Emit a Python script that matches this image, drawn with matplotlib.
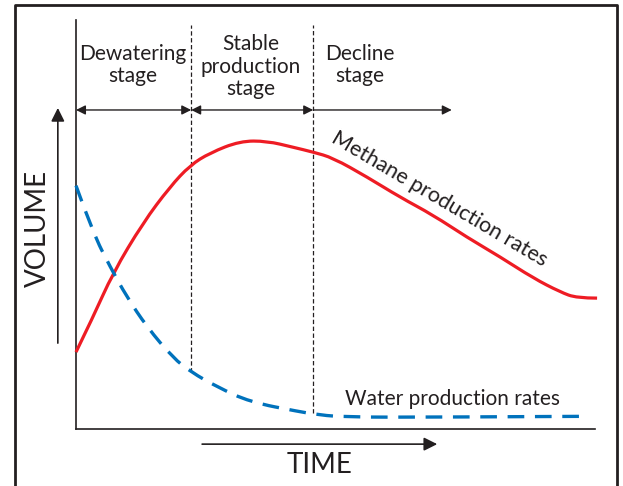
import matplotlib

matplotlib.use("Agg")

import matplotlib.pyplot as plt
import numpy as np
from matplotlib.lines import Line2D
from matplotlib.patches import PathPatch
from matplotlib.path import Path

plt.rcParams["font.family"] = ["Lato", "DejaVu Sans"]

INK = "#231f20"
RED = "#ee1c24"
BLUE = "#0072bc"

# methane production curve (time, volume)
methane_t = [0, 3.3, 7.1, 12.9, 18.1, 22.0, 25.8, 31.6, 36.8, 41.8, 45.7, 49.5,
             56.1, 62.4, 68.8, 75.3, 81.7, 88.1, 93.3, 96.5, 100.4]
methane_v = [18.8, 27.4, 38.1, 50.4, 59.2, 64.5, 67.5, 70.4, 70.4, 68.9, 67.7, 66.3,
             61.6, 56.7, 52.3, 46.9, 42.1, 36.9, 33.5, 32.0, 32.0]

# water production curve
water_t = [0, 3.3, 6.6, 9.8, 13.7, 18.7, 22.2, 27.2, 33.5, 43.2, 45.7, 50.9, 70.0, 98.7]
water_v = [59.5, 47.9, 39.6, 32.3, 24.9, 17.4, 13.9, 10.3, 6.6, 4.2, 3.7, 2.9, 2.9, 3.1]

# stage boundaries and labels
stage_edges = [0, 22.2, 45.7]
stage_end = 72.4
stage_names = ["Dewatering\nstage", "Stable\nproduction\nstage", "Decline\nstage"]
stage_label_x = [11.0, 33.7, 54.7]
divider_bottoms = [13.9, 3.9]


def smooth_path(xs, ys):
    # quadratic bezier through midpoints, so the read points act as control points
    pts = np.column_stack([xs, ys])
    verts = [pts[0]]
    codes = [Path.MOVETO]
    for i in range(1, len(pts) - 1):
        end = pts[i + 1] if i == len(pts) - 2 else (pts[i] + pts[i + 1]) / 2
        verts += [pts[i], end]
        codes += [Path.CURVE3, Path.CURVE3]
    return Path(verts, codes)


fig = plt.figure(figsize=(6.23, 4.86), dpi=100)
ax = fig.add_axes((76 / 623, 1 - 429 / 486, 519 / 623, 409 / 486))
ax.set_xlim(0, 100)
ax.set_ylim(0, 100)
ax.set_xticks([])
ax.set_yticks([])
ax.spines[["top", "right"]].set_visible(False)
for side in ["left", "bottom"]:
    ax.spines[side].set_color(INK)
    ax.spines[side].set_linewidth(1.2)

ax.add_patch(PathPatch(smooth_path(methane_t, methane_v), fill=False,
                       edgecolor=RED, lw=2.3, clip_on=False, zorder=3,
                       joinstyle="round", capstyle="butt"))
ax.add_patch(PathPatch(smooth_path(water_t, water_v), fill=False,
                       edgecolor=BLUE, lw=2.4, linestyle=(0, (5, 3.2)),
                       clip_on=False, zorder=3, capstyle="butt"))

# stage dividers
for x0, yb in zip(stage_edges[1:], divider_bottoms):
    ax.plot([x0, x0], [yb, 98.8], color=INK, lw=0.9, dashes=(3.5, 2), zorder=2)

# stage arrows
arrow_y = 78.0
bounds = stage_edges + [stage_end]
for i in range(3):
    style = "<|-|>" if i < 2 else "-|>"
    ax.annotate("", xy=(bounds[i + 1], arrow_y), xytext=(bounds[i], arrow_y),
                arrowprops=dict(arrowstyle=style, color=INK, lw=1.0,
                                mutation_scale=14, shrinkA=0, shrinkB=0))

for name, x in zip(stage_names, stage_label_x):
    ax.text(x, 89.0 if name.count("\n") == 1 else 88.6, name, ha="center",
            va="center", fontsize=15, color=INK, linespacing=1.15)

# curve labels
ax.text(70.0, 56.3, "Methane production rates", rotation=-30.5,
        rotation_mode="anchor", ha="center", va="center", fontsize=15.5, color=INK)
ax.text(72.6, 7.3, "Water production rates", ha="center", va="center",
        fontsize=15, color=INK)

# axis arrows and titles
ax.annotate("", xy=(-3.5, 78.5), xytext=(-3.5, 21.0), annotation_clip=False,
            arrowprops=dict(arrowstyle="-|>", color=INK, lw=1.2,
                            mutation_scale=20, shrinkA=0, shrinkB=0))
ax.annotate("", xy=(69.6, -3.7), xytext=(24.3, -3.7), annotation_clip=False,
            arrowprops=dict(arrowstyle="-|>", color=INK, lw=1.2,
                            mutation_scale=20, shrinkA=0, shrinkB=0))
ax.text(-7.3, 49.1, "VOLUME", rotation=90, ha="center", va="center",
        fontsize=20, color=INK, clip_on=False)
ax.text(47.0, -8.8, "TIME", ha="center", va="center", fontsize=20,
        color=INK, clip_on=False)

# outer frame (open at the bottom)
frame_x = [15 / 623, 15 / 623, 617 / 623, 617 / 623]
frame_y = [0, 1 - 5 / 486, 1 - 5 / 486, 0]
fig.add_artist(Line2D(frame_x, frame_y, color=INK, lw=2.0,
                      transform=fig.transFigure))

fig.savefig("out.png", dpi=100)
